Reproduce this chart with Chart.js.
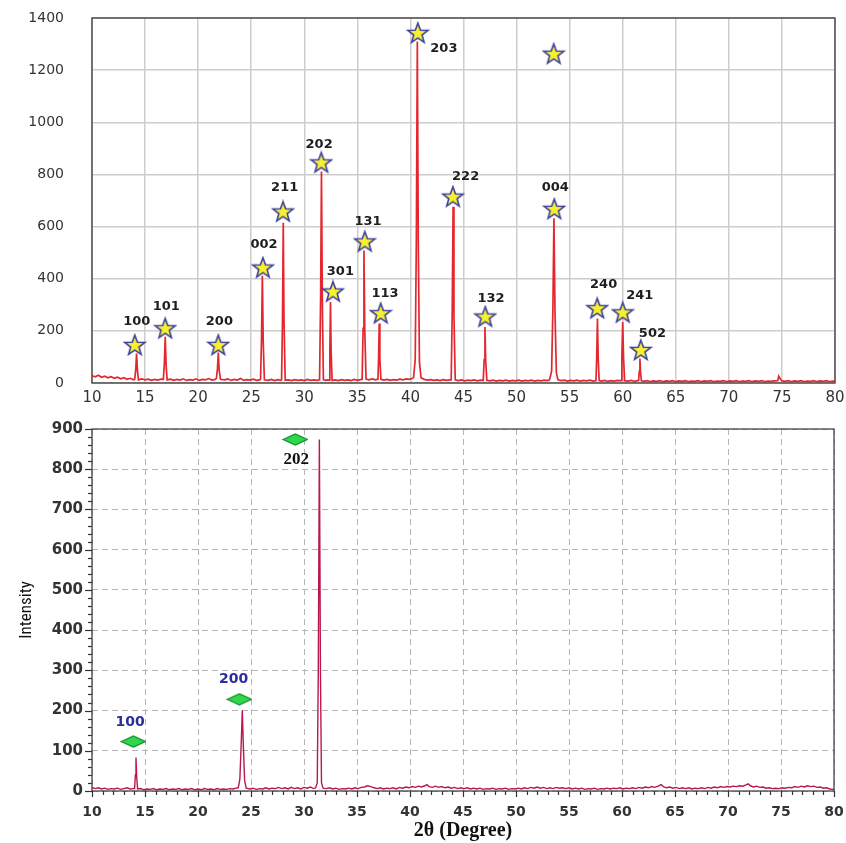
<!DOCTYPE html>
<html><head><meta charset="utf-8">
<script src="https://cdn.jsdelivr.net/npm/chart.js@4.4.1/dist/chart.umd.min.js"></script>
<style>
html,body{margin:0;padding:0;background:#fff;}
#wrap1{position:absolute;left:0;top:0;width:846px;height:412px;}
#wrap2{position:absolute;left:0;top:412px;width:846px;height:431px;}
</style></head><body>
<div id="wrap1"><canvas id="c1"></canvas></div>
<div id="wrap2"><canvas id="c2"></canvas></div>
<script>
// ---------- DATA: top pattern ----------
const topScan = [
[10.0,28],[10.3,24],[10.6,30],[10.9,22],[11.2,26],[11.5,20],[11.8,24],[12.1,18],[12.4,22],[12.7,16],[13.0,20],[13.3,14],[13.6,18],[13.9,12],
[14.02,14],[14.12,50],[14.2,113],[14.28,48],[14.38,12],
[14.7,16],[15.0,12],[15.3,15],[15.6,10],[15.9,14],[16.2,11],[16.5,15],
[16.72,14],[16.82,75],[16.9,177],[16.98,70],[17.08,12],
[17.4,15],[17.7,10],[18.0,14],[18.3,11],[18.6,16],[18.9,10],[19.2,13],[19.5,11],[19.8,16],[20.1,10],[20.4,14],[20.7,12],[21.0,17],[21.3,11],[21.6,14],
[21.72,18],[21.82,55],[21.9,117],[21.98,50],[22.1,14],
[22.5,12],[22.8,16],[23.1,10],[23.4,14],[23.7,11],[24.0,17],[24.3,10],[24.6,13],[24.9,11],[25.2,15],[25.5,10],[25.8,12],
[25.88,14],[25.97,170],[26.05,411],[26.13,160],[26.24,12],
[26.6,10],[26.9,14],[27.2,9],[27.5,13],[27.8,10],
[27.86,12],[27.95,250],[28.02,615],[28.09,240],[28.2,11],
[28.5,12],[28.8,9],[29.1,13],[29.4,10],[29.7,12],[30.0,9],[30.3,14],[30.6,10],[30.9,12],[31.2,10],
[31.44,12],[31.54,330],[31.62,811],[31.7,310],[31.8,13],
[32.0,10],[32.2,12],
[32.34,11],[32.41,130],[32.47,311],[32.53,120],[32.62,10],
[32.9,12],[33.2,9],[33.5,13],[33.8,10],[34.1,12],[34.4,9],[34.7,14],[35.0,10],[35.3,13],
[35.45,14],[35.54,210],[35.62,508],[35.7,200],[35.82,15],
[36.1,12],[36.4,16],[36.7,12],[36.9,15],
[36.94,16],[37.0,95],[37.06,228],[37.12,90],[37.22,14],
[37.5,11],[37.8,14],[38.1,10],[38.4,13],[38.7,11],[39.0,15],[39.3,12],[39.6,16],[39.9,14],[40.2,18],
[40.3,22],[40.45,90],[40.56,560],[40.65,1310],[40.74,540],[40.85,80],[41.0,20],
[41.3,14],[41.6,11],[41.9,13],[42.2,10],[42.5,12],[42.8,9],[43.1,13],[43.4,10],[43.7,12],
[43.84,12],[43.94,280],[44.02,676],[44.1,260],[44.22,12],
[44.5,9],[44.8,12],[45.1,8],[45.4,11],[45.7,9],[46.0,12],[46.3,8],[46.6,11],
[46.86,10],[46.95,90],[47.02,215],[47.09,85],[47.2,10],
[47.5,8],[47.8,11],[48.1,7],[48.4,10],[48.7,8],[49.0,11],[49.3,7],[49.6,10],[49.9,8],[50.2,11],[50.5,7],[50.8,10],[51.1,8],[51.4,11],[51.7,7],[52.0,10],[52.3,8],[52.6,11],[52.9,9],
[53.1,12],[53.3,45],[53.42,280],[53.52,632],[53.62,270],[53.75,40],[53.9,12],
[54.2,9],[54.5,11],[54.8,7],[55.1,10],[55.4,8],[55.7,11],[56.0,7],[56.3,10],[56.6,8],[56.9,11],[57.2,7],[57.45,9],
[57.48,10],[57.55,100],[57.62,247],[57.69,95],[57.78,9],
[58.0,7],[58.3,10],[58.6,6],[58.9,9],[59.2,7],[59.5,10],[59.8,8],
[59.84,10],[59.92,100],[60.0,234],[60.08,95],[60.18,9],
[60.5,7],[60.8,10],[61.1,6],[61.4,9],
[61.5,10],[61.56,45],[61.62,94],[61.68,40],[61.76,8],
[62.0,6],[62.3,9],[62.6,5],[62.9,8],[63.2,6],[63.5,9],[63.8,5],[64.1,8],[64.4,6],[64.7,9],[65.0,5],[65.3,8],[65.6,6],[65.9,9],[66.2,5],[66.5,7],[66.8,6],[67.1,9],[67.4,5],[67.7,8],[68.0,6],[68.3,9],[68.6,5],[68.9,7],[69.2,6],[69.5,9],[69.8,5],[70.1,8],[70.4,6],[70.7,9],[71.0,5],[71.3,7],[71.6,6],[71.9,9],[72.2,5],[72.5,8],[72.8,6],[73.1,9],[73.4,5],[73.7,7],[74.0,6],[74.3,8],[74.6,9],[74.7,26],[74.8,18],[75.0,8],[75.3,6],[75.6,9],[75.9,5],[76.2,8],[76.5,6],[76.8,9],[77.1,5],[77.4,7],[77.7,6],[78.0,9],[78.3,5],[78.6,8],[78.9,6],[79.2,9],[79.5,5],[79.8,7],[80.0,6]
];
const starX = [14.03,16.9,21.9,26.1,28.0,31.6,32.7,35.7,37.2,40.7,44.0,47.05,53.55,53.5,57.6,60.0,61.7];
const starY = [146,210,146,443,658,846,351,543,268,1343,715,255,668,1263,287,271,127];
const hklTop = ['100','101','200','002','211','202','301','131','113','203','222','132','004','240','241','502'];
const hklTopX = [14.22,17.0,22.0,26.2,28.15,31.4,33.4,36.0,37.6,43.15,45.2,47.6,53.65,58.2,61.6,62.8];
const hklTopY = [234,293,234,530,748,914,427,619,344,1283,792,323,750,376,334,191];

// ---------- DATA: bottom pattern ----------
const bottomScan = [
[10.0,9],[10.3,6],[10.6,8],[10.9,5],[11.2,7],[11.5,4],[11.8,6],[12.1,5],[12.4,7],[12.7,4],[13.0,6],[13.3,8],[13.6,5],[13.9,6],
[14.02,6],[14.09,40],[14.15,83],[14.21,38],[14.3,5],
[14.6,6],[14.9,3],[15.2,5],[15.5,4],[15.8,6],[16.1,3],[16.4,5],[16.7,4],[17.0,6],[17.3,3],[17.6,5],[17.9,4],[18.2,6],[18.5,3],[18.8,5],[19.1,4],[19.4,6],[19.7,3],[20.0,5],[20.3,3],[20.6,6],[20.9,4],[21.2,5],[21.5,3],[21.8,6],[22.1,4],[22.4,5],[22.7,4],[23.0,6],[23.3,5],[23.6,7],
[23.8,8],[23.95,30],[24.08,120],[24.18,201],[24.28,110],[24.4,25],[24.55,7],
[24.9,5],[25.2,7],[25.5,4],[25.8,6],[26.1,5],[26.4,8],[26.7,5],[27.0,7],[27.3,6],[27.6,9],[27.9,6],[28.2,8],[28.5,5],[28.8,9],[29.1,6],[29.4,8],[29.7,5],[30.0,9],[30.3,7],[30.6,10],[30.9,6],
[31.1,8],[31.25,20],[31.35,300],[31.45,874],[31.55,300],[31.65,20],[31.8,7],
[32.1,6],[32.4,8],[32.7,5],[33.0,7],[33.3,4],[33.6,6],[33.9,5],[34.2,7],[34.5,5],[34.8,8],[35.1,6],[35.4,9],[35.7,10],[36.0,13],[36.3,11],[36.6,8],[36.9,6],[37.2,8],[37.5,5],[37.8,7],[38.1,6],[38.4,8],[38.7,5],[39.0,9],[39.3,7],[39.6,10],[39.9,8],[40.2,11],[40.5,9],[40.8,12],[41.1,10],[41.4,13],[41.6,16],[41.8,11],[42.1,9],[42.4,12],[42.7,9],[43.0,11],[43.3,8],[43.6,10],[43.9,7],[44.2,9],[44.5,6],[44.8,8],[45.1,6],[45.4,8],[45.7,5],[46.0,7],[46.3,5],[46.6,7],[46.9,4],[47.2,6],[47.5,5],[47.8,7],[48.1,4],[48.4,6],[48.7,5],[49.0,7],[49.3,4],[49.6,6],[49.9,5],[50.2,7],[50.5,5],[50.8,8],[51.1,6],[51.4,9],[51.7,7],[52.0,10],[52.3,7],[52.6,9],[52.9,6],[53.2,8],[53.5,6],[53.8,9],[54.1,7],[54.4,8],[54.7,6],[55.0,8],[55.3,5],[55.6,7],[55.9,5],[56.2,7],[56.5,4],[56.8,6],[57.1,5],[57.4,7],[57.7,4],[58.0,6],[58.3,5],[58.6,7],[58.9,5],[59.2,7],[59.5,6],[59.8,8],[60.1,5],[60.4,7],[60.7,6],[61.0,8],[61.3,6],[61.6,9],[61.9,7],[62.2,10],[62.5,8],[62.8,11],[63.1,9],[63.4,12],[63.7,16],[63.9,11],[64.2,8],[64.5,10],[64.8,7],[65.1,9],[65.4,6],[65.7,8],[66.0,6],[66.3,8],[66.6,5],[66.9,7],[67.2,6],[67.5,8],[67.8,6],[68.1,9],[68.4,7],[68.7,10],[69.0,8],[69.3,11],[69.6,9],[69.9,11],[70.2,10],[70.5,12],[70.8,11],[71.1,13],[71.4,12],[71.7,15],[71.9,18],[72.1,13],[72.4,10],[72.7,12],[73.0,9],[73.3,10],[73.6,7],[73.9,8],[74.2,6],[74.5,7],[74.8,6],[75.1,8],[75.4,7],[75.7,9],[76.0,8],[76.3,11],[76.6,9],[76.9,12],[77.2,10],[77.5,13],[77.8,11],[78.1,12],[78.4,9],[78.7,10],[79.0,7],[79.3,8],[79.6,5],[80.0,4]
];
const diamondX = [13.9,23.9,29.17];
const diamondY = [123,228,874];
const hklBottom = ['100','200','202'];
const hklBottomX = [13.6,23.35,29.26];
const hklBottomY = [171,278,825];

const xTickStep = 5, xMin = 10, xMax = 80;
const yTopMax = 1400, yTopStep = 200;
const yBotMax = 900, yBotStep = 100;
const xTitle = '2θ (Degree)';
const yTitle = 'Intensity';

// ---------- marker images ----------
function makeStar(){
  const c=document.createElement('canvas'); c.width=24; c.height=24;
  const g=c.getContext('2d'); g.beginPath();
  for(let i=0;i<10;i++){const r=i%2?4.4:10.6; const a=-Math.PI/2+i*Math.PI/5; g.lineTo(12+r*Math.cos(a),12.8+r*Math.sin(a));}
  g.closePath(); g.fillStyle='#f6f030'; g.fill(); g.lineWidth=1.6; g.strokeStyle='#3a3f9c'; g.lineJoin='miter'; g.stroke();
  return c;
}
function makeDiamond(){
  const c=document.createElement('canvas'); c.width=26; c.height=13;
  const g=c.getContext('2d'); g.beginPath();
  g.moveTo(1,6.5); g.lineTo(13,1); g.lineTo(25,6.5); g.lineTo(13,12); g.closePath();
  g.fillStyle='#2ed84a'; g.fill(); g.lineWidth=1.2; g.strokeStyle='#128a2a'; g.stroke();
  return c;
}
const starImg = makeStar(), diamondImg = makeDiamond();

// ---------- plugins ----------
const framePlugin = {
  id:'frame',
  beforeDatasetsDraw(chart, args, opts){
    const a=chart.chartArea, ctx=chart.ctx;
    ctx.save(); ctx.strokeStyle=opts.color; ctx.lineWidth=opts.width;
    ctx.strokeRect(a.left, a.top, a.right-a.left, a.bottom-a.top);
    ctx.restore();
  }
};
const minorTickPlugin = {
  id:'minorTicks',
  afterDraw(chart, args, opts){
    if(!opts.enabled) return;
    const ctx=chart.ctx, xs=chart.scales.x, ys=chart.scales.y, a=chart.chartArea;
    ctx.save(); ctx.strokeStyle='#333'; ctx.lineWidth=1.2;
    for(let v=xMin; v<=xMax; v+=1){
      const px=Math.round(xs.getPixelForValue(v))+0.5; const L=(v%5===0)?6:4;
      ctx.beginPath(); ctx.moveTo(px,a.bottom); ctx.lineTo(px,a.bottom+L); ctx.stroke();
    }
    for(let v=0; v<=yBotMax; v+=20){
      const py=Math.round(ys.getPixelForValue(v))+0.5; const L=(v%100===0)?7:4;
      ctx.beginPath(); ctx.moveTo(a.left,py); ctx.lineTo(a.left-L,py); ctx.stroke();
    }
    ctx.restore();
  }
};
const hklPlugin = {
  id:'hkl',
  afterDatasetsDraw(chart, args, opts){
    const ctx=chart.ctx, xs=chart.scales.x, ys=chart.scales.y;
    ctx.save(); ctx.textAlign='center'; ctx.textBaseline='middle';
    opts.texts.forEach((t,i)=>{
      const st = opts.styles[i] || opts.styles[0];
      ctx.font=st.font; ctx.fillStyle=st.color;
      ctx.fillText(t, xs.getPixelForValue(opts.xs[i]), ys.getPixelForValue(opts.ys[i]));
    });
    ctx.restore();
  }
};

function fixX(h){ return s=>{ s.height=h; s.paddingLeft=0; s.paddingRight=0; }; }
function fixY(w){ return s=>{ s.width=w; s.paddingTop=0; s.paddingBottom=0; }; }
const plainNum = v => String(v);

Chart.defaults.animation=false;

// ---------- top chart ----------
new Chart(document.getElementById('c1'), {
  type:'scatter',
  data:{ datasets:[
    { data: starX.map((x,i)=>({x, y:starY[i]})), pointStyle: starImg, pointRadius: 10, showLine:false },
    { data: topScan.map(p=>({x:p[0], y:p[1]})), showLine:true, borderColor:'#e4262e', borderWidth:1.7, pointRadius:0, tension:0, fill:false }
  ]},
  options:{
    responsive:true, maintainAspectRatio:false, animation:false,
    layout:{ padding:{ top:18, right:7, left:0, bottom:0 } },
    plugins:{ legend:{display:false}, tooltip:{enabled:false},
      frame:{ color:'#3a3a3a', width:1.3 },
      minorTicks:{ enabled:false },
      hkl:{ texts:hklTop, xs:hklTopX, ys:hklTopY, styles:[{font:'bold 13px "DejaVu Sans"', color:'#1e1e1e'}] }
    },
    scales:{
      x:{ type:'linear', min:xMin, max:xMax, afterFit:fixX(29),
          ticks:{ stepSize:xTickStep, padding:6, color:'#333', font:{family:'DejaVu Sans', size:15}, callback:plainNum },
          grid:{ color:'#cdcdcd', lineWidth:1.5, drawTicks:false }, border:{display:false} },
      y:{ type:'linear', min:0, max:yTopMax, afterFit:fixY(92),
          ticks:{ stepSize:yTopStep, padding:28, color:'#333', font:{family:'DejaVu Sans', size:14}, callback:plainNum },
          grid:{ color:'#cdcdcd', lineWidth:1.5, drawTicks:false }, border:{display:false} }
    }
  },
  plugins:[framePlugin, minorTickPlugin, hklPlugin]
});

// ---------- bottom chart ----------
new Chart(document.getElementById('c2'), {
  type:'scatter',
  data:{ datasets:[
    { data: diamondX.map((x,i)=>({x, y:diamondY[i]})), pointStyle: diamondImg, pointRadius: 10, showLine:false },
    { data: bottomScan.map(p=>({x:p[0], y:p[1]})), showLine:true, borderColor:'#b8174f', borderWidth:1.4, pointRadius:0, tension:0, fill:false }
  ]},
  options:{
    responsive:true, maintainAspectRatio:false, animation:false,
    layout:{ padding:{ top:17, right:12, left:0, bottom:0 } },
    plugins:{ legend:{display:false}, tooltip:{enabled:false},
      frame:{ color:'#444', width:1.3 },
      minorTicks:{ enabled:true },
      hkl:{ texts:hklBottom, xs:hklBottomX, ys:hklBottomY, styles:[
        {font:'bold 14px "DejaVu Sans"', color:'#2b2f9e'},
        {font:'bold 14px "DejaVu Sans"', color:'#2b2f9e'},
        {font:'bold 17px "Liberation Serif"', color:'#111'} ] }
    },
    scales:{
      x:{ type:'linear', min:xMin, max:xMax, afterFit:fixX(52),
          title:{ display:true, text:xTitle, color:'#111', font:{family:'Liberation Serif', size:20, weight:'bold'}, padding:{top:0,bottom:0} },
          ticks:{ stepSize:xTickStep, padding:13, color:'#333', font:{family:'DejaVu Sans', size:14, weight:'bold'}, callback:plainNum },
          grid:{ color:'#b5b5b5', lineWidth:1, drawTicks:false }, border:{display:false, dash:[6,4]} },
      y:{ type:'linear', min:0, max:yBotMax, afterFit:fixY(92),
          title:{ display:true, text:yTitle, color:'#111', font:{family:"'Liberation Sans Narrow', 'Roboto Condensed', 'Liberation Sans', sans-serif", size:17}, padding:{top:17,bottom:0} },
          ticks:{ stepSize:yBotStep, padding:9, color:'#333', font:{family:'DejaVu Sans', size:15, weight:'bold'}, callback:plainNum },
          grid:{ color:'#b5b5b5', lineWidth:1, drawTicks:false }, border:{display:false, dash:[6,4]} }
    }
  },
  plugins:[framePlugin, minorTickPlugin, hklPlugin]
});
</script>
</body></html>
